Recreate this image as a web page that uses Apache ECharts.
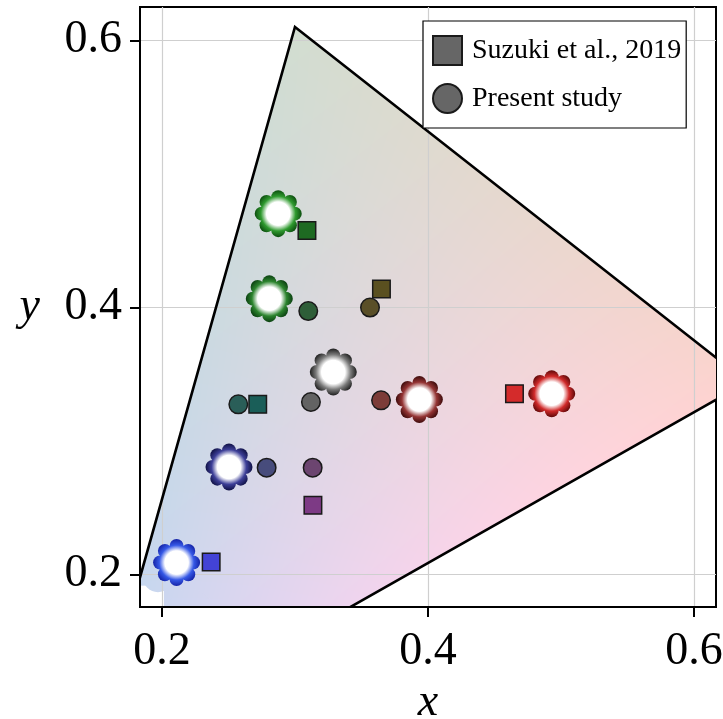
<!DOCTYPE html>
<html>
<head>
<meta charset="utf-8">
<script src="https://cdn.jsdelivr.net/npm/echarts@6/dist/echarts.min.js"></script>
<style>
  html, body { margin: 0; padding: 0; background: #fff; }
  #chart { width: 723px; height: 719px; }
</style>
</head>
<body>
<div id="chart"></div>
<script>
// Display gamut corners (green, red, blue) in xy chromaticity
const gamutX = [0.300, 0.640, 0.146];
const gamutY = [0.610, 0.344, 0.065];

// The fill stops short of the blue corner: a clear patch with two rounded lobes
const cornerX = [0.1835, 0.2015];
const cornerY = [0.1755, 0.1915];
const lobeX = [0.197, 0.221];
const lobeY = [0.1978, 0.1700];

// Suzuki et al., 2019
const suzukiX = [0.309, 0.365, 0.272, 0.3135, 0.237, 0.465];
const suzukiY = [0.4575, 0.4137, 0.3273, 0.2517, 0.2092, 0.3353];

// Present study
const presentX = [0.310, 0.3564, 0.2574, 0.312, 0.3647, 0.2787, 0.3133];
const presentY = [0.3972, 0.3998, 0.3273, 0.3291, 0.3303, 0.2799, 0.2799];

// Emission colour points
const emitX = [0.2874, 0.2807, 0.3288, 0.3935, 0.493, 0.2504, 0.211];
const emitY = [0.4702, 0.4065, 0.3515, 0.3309, 0.3353, 0.2804, 0.2088];

const xTicks = [0.2, 0.4, 0.6];
const yTicks = [0.2, 0.4, 0.6];

// Marker colours
const suzukiColors = ['#1e6a22', '#5a5020', '#1a5e58', '#7d3a85', '#4343d6', '#d42b2b'];
const presentColors = ['#2e5e38', '#5a4f28', '#2a5e58', '#636363', '#7c3c38', '#474c7c', '#6c4570'];
const emitColors = [
  ['#2f9a2f', '#0b4d0e'],
  ['#2c842e', '#0a3f10'],
  ['#7a7a7a', '#1e1e1e'],
  ['#943434', '#3c0a0a'],
  ['#d02a2a', '#5e0808'],
  ['#3d3f98', '#0f1044'],
  ['#3558e6', '#1422a6']
];

// Vertex tints for the gamut fill
const tintG = [210, 221, 208];
const tintR = [252, 211, 205];
const tintB = [194, 213, 248];
const tintBR = [22, 0, 8]; // extra warmth along the blue-red edge

const serif = 'Liberation Serif, Times New Roman, serif';
const chart = echarts.init(document.getElementById('chart'));

let fillCache = { key: null, pattern: null };
function gamutFill(pts) {
  const key = pts.map(p => p[0].toFixed(1) + ',' + p[1].toFixed(1)).join(';');
  if (fillCache.key === key) return fillCache.pattern;
  const W = chart.getWidth(), H = chart.getHeight();
  const cv = document.createElement('canvas');
  cv.width = W; cv.height = H;
  const ctx = cv.getContext('2d');
  const img = ctx.createImageData(W, H);
  const [G, R, B] = pts;
  const v0x = R[0] - G[0], v0y = R[1] - G[1];
  const v1x = B[0] - G[0], v1y = B[1] - G[1];
  const det = v0x * v1y - v1x * v0y;
  for (let y = 0; y < H; y++) {
    for (let x = 0; x < W; x++) {
      const px = x + 0.5 - G[0], py = y + 0.5 - G[1];
      let a = (px * v1y - v1x * py) / det;
      let b = (v0x * py - v0y * px) / det;
      let g = 1 - a - b;
      a = Math.max(a, 0); b = Math.max(b, 0); g = Math.max(g, 0);
      const s = a + b + g;
      a /= s; b /= s; g /= s;
      const k = 4 * a * b;
      const i = (y * W + x) * 4;
      for (let c = 0; c < 3; c++) {
        img.data[i + c] = Math.min(255, g * tintG[c] + a * tintR[c] + b * tintB[c] + k * tintBR[c]);
      }
      img.data[i + 3] = 255;
    }
  }
  ctx.putImageData(img, 0, 0);
  fillCache = { key, pattern: { image: cv, repeat: 'no-repeat' } };
  return fillCache.pattern;
}

function gamutPoints(api) {
  return gamutX.map((x, i) => api.coord([x, gamutY[i]]));
}

const axisCommon = {
  type: 'value',
  z: 1,
  axisLine: { show: true, onZero: false, lineStyle: { color: '#000', width: 2 } },
  axisTick: { show: true, inside: false, length: 10, lineStyle: { color: '#000', width: 2 } },
  splitLine: { show: true, lineStyle: { color: '#cfcfcf', width: 1.2 } },
  axisLabel: {
    color: '#000', fontFamily: serif, fontSize: 46,
    formatter: v => v.toFixed(1)
  },
  nameTextStyle: { color: '#000', fontFamily: serif, fontSize: 46, fontStyle: 'italic' }
};

const option = {
  animation: false,
  backgroundColor: '#fff',
  grid: {
    left: 140, right: 7, top: 7, bottom: 112,
    outerBoundsMode: 'none', containLabel: false,
    show: true, borderColor: '#000', borderWidth: 2, backgroundColor: 'transparent'
  },
  xAxis: Object.assign({}, axisCommon, {
    min: 0.1835, max: 0.6165,
    name: 'x', nameLocation: 'middle', nameGap: 73,
    axisTick: Object.assign({}, axisCommon.axisTick, { customValues: xTicks }),
    axisLabel: Object.assign({}, axisCommon.axisLabel, { customValues: xTicks, margin: 22 })
  }),
  yAxis: Object.assign({}, axisCommon, {
    min: 0.1755, max: 0.625,
    name: 'y', nameLocation: 'middle', nameGap: 100, nameRotate: 0,
    axisTick: Object.assign({}, axisCommon.axisTick, { customValues: yTicks }),
    axisLabel: Object.assign({}, axisCommon.axisLabel, { customValues: yTicks, margin: 18 })
  }),
  legend: {
    orient: 'vertical', left: 423, top: 21,
    padding: [14, 5, 14, 9], itemGap: 17,
    itemWidth: 29, itemHeight: 29,
    backgroundColor: '#fff', borderColor: '#000', borderWidth: 1.2, borderRadius: 0,
    textStyle: { color: '#000', fontFamily: serif, fontSize: 28, padding: [0, 0, 0, 5] },
    data: [
      { name: 'Suzuki et al., 2019', icon: 'rect' },
      { name: 'Present study', icon: 'circle' }
    ]
  },
  series: [
    {
      // gamut fill, cleared near the blue corner and finished with rounded lobes
      type: 'custom', z: 0, clip: true, silent: true,
      data: [0],
      renderItem: (params, api) => {
        const pts = gamutPoints(api);
        const fill = gamutFill(pts);
        const c0 = api.coord([cornerX[0], cornerY[0]]);
        const c1 = api.coord([cornerX[1], cornerY[1]]);
        const children = [
          { type: 'polygon', shape: { points: pts }, style: { fill, stroke: null } },
          {
            type: 'rect',
            shape: { x: c0[0], y: c1[1], width: c1[0] - c0[0], height: c0[1] - c1[1] + 4 },
            style: { fill: '#fff' }
          }
        ];
        lobeX.forEach((x, i) => {
          const c = api.coord([x, lobeY[i]]);
          children.push({ type: 'circle', shape: { cx: c[0], cy: c[1], r: i === 0 ? 15 : 25 }, style: { fill } });
        });
        return { type: 'group', children };
      }
    },
    {
      // gamut outline
      type: 'custom', z: 2, clip: true, silent: true,
      data: [0],
      renderItem: (params, api) => {
        const pts = gamutPoints(api);
        return { type: 'polygon', shape: { points: pts }, style: { fill: null, stroke: '#000', lineWidth: 2.6, lineJoin: 'miter' } };
      }
    },
    {
      // emission colour points
      type: 'custom', z: 3, clip: true, silent: true,
      data: emitX.map((x, i) => [x, emitY[i]]),
      renderItem: (params, api) => {
        const c = api.coord([api.value(0), api.value(1)]);
        const [base, dark] = emitColors[params.dataIndex];
        const grad = {
          type: 'radial', x: c[0], y: c[1], r: 23.5, global: true,
          colorStops: [
            { offset: 0, color: '#ffffff' },
            { offset: 0.5, color: '#ffffff' },
            { offset: 0.74, color: base },
            { offset: 1, color: dark }
          ]
        };
        const children = [];
        for (let k = 0; k < 8; k++) {
          const ang = k * Math.PI / 4;
          children.push({
            type: 'circle',
            shape: { cx: c[0] + 16.5 * Math.cos(ang), cy: c[1] + 16.5 * Math.sin(ang), r: 7 },
            style: { fill: grad }
          });
        }
        children.push({ type: 'circle', shape: { cx: c[0], cy: c[1], r: 13.5 }, style: { fill: grad } });
        return { type: 'group', children };
      }
    },
    {
      name: 'Suzuki et al., 2019',
      type: 'scatter', z: 4, symbol: 'rect', symbolSize: 17.5,
      itemStyle: { color: '#666', borderColor: '#1a1a1a', borderWidth: 1.5, opacity: 1 },
      data: suzukiX.map((x, i) => ({ value: [x, suzukiY[i]], itemStyle: { color: suzukiColors[i] } }))
    },
    {
      name: 'Present study',
      type: 'scatter', z: 4, symbol: 'circle', symbolSize: 18.5,
      itemStyle: { color: '#666', borderColor: '#1a1a1a', borderWidth: 1.5, opacity: 1 },
      data: presentX.map((x, i) => ({ value: [x, presentY[i]], itemStyle: { color: presentColors[i] } }))
    }
  ]
};
chart.setOption(option);
</script>
</body>
</html>
